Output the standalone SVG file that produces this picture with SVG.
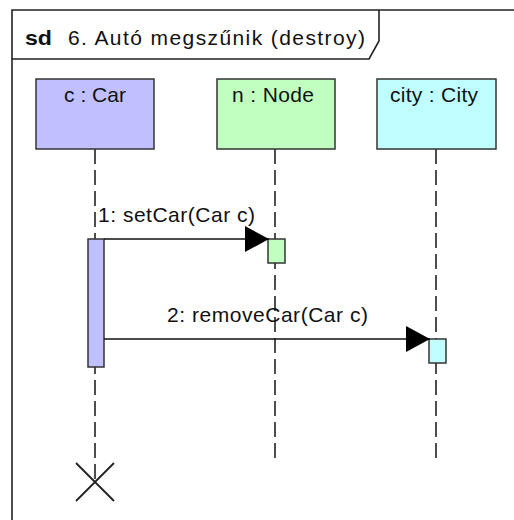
<svg xmlns="http://www.w3.org/2000/svg" width="514" height="520" viewBox="0 0 514 520">
  <style>
    text { font-family: "Liberation Sans", Arial, sans-serif; font-size: 21px; fill: #111; }
    .frame { fill: none; stroke: #222; stroke-width: 1.6; }
    .head { stroke: #333; stroke-width: 1.5; }
    .life { stroke: #222; stroke-width: 1.6; stroke-dasharray: 15 6; fill: none; }
    .act { stroke: #333; stroke-width: 1.5; }
    .msg { stroke: #111; stroke-width: 1.5; fill: none; marker-end: url(#arrow); }
    .car { fill: #c0c0ff; }
    .node { fill: #c0ffc0; }
    .city { fill: #c0ffff; }
  </style>
  <defs>
    <marker id="arrow" markerUnits="userSpaceOnUse" markerWidth="26" markerHeight="28" refX="24" refY="13" orient="auto">
      <polygon points="0,0 24,13 0,26" fill="#000"/>
    </marker>
  </defs>

  <rect width="514" height="520" fill="#fff"/>

  <!-- interaction frame with its name tab -->
  <g id="frame">
    <path class="frame" d="M12,530 V10 H530"/>
    <path class="frame" d="M12,59 H369 L379,41 V10"/>
    <text x="25" y="45" font-weight="bold" textLength="27" lengthAdjust="spacingAndGlyphs">sd</text>
    <text x="68" y="45" textLength="297" lengthAdjust="spacing">6. Autó megszűnik (destroy)</text>
  </g>

  <!-- lifelines -->
  <g id="car">
    <line class="life" x1="95" y1="149" x2="95" y2="482"/>
    <rect class="head car" x="36" y="79" width="118" height="70"/>
    <text x="64" y="102" textLength="62" lengthAdjust="spacing">c : Car</text>
    <rect class="act car" x="88" y="239" width="16" height="128"/>
    <path d="M76,463 L114,501 M114,463 L76,501" stroke="#222" stroke-width="1.8" fill="none"/>
  </g>

  <g id="node">
    <line class="life" x1="275" y1="149" x2="275" y2="461"/>
    <rect class="head node" x="217" y="79" width="118" height="70"/>
    <text x="232" y="102" textLength="82" lengthAdjust="spacing">n : Node</text>
    <rect class="act node" x="268" y="239" width="17" height="24"/>
  </g>

  <g id="city">
    <line class="life" x1="436" y1="149" x2="436" y2="461"/>
    <rect class="head city" x="377" y="79" width="119" height="70"/>
    <text x="390" y="102" textLength="88" lengthAdjust="spacing">city : City</text>
    <rect class="act city" x="429" y="339" width="17" height="24"/>
  </g>

  <!-- messages -->
  <g id="connectors">
    <line class="msg" x1="104" y1="239" x2="269" y2="239"/>
    <text x="98" y="222" textLength="157" lengthAdjust="spacing">1: setCar(Car c)</text>
    <line class="msg" x1="104" y1="339" x2="430" y2="339"/>
    <text x="167" y="322" textLength="201" lengthAdjust="spacing">2: removeCar(Car c)</text>
  </g>
</svg>
